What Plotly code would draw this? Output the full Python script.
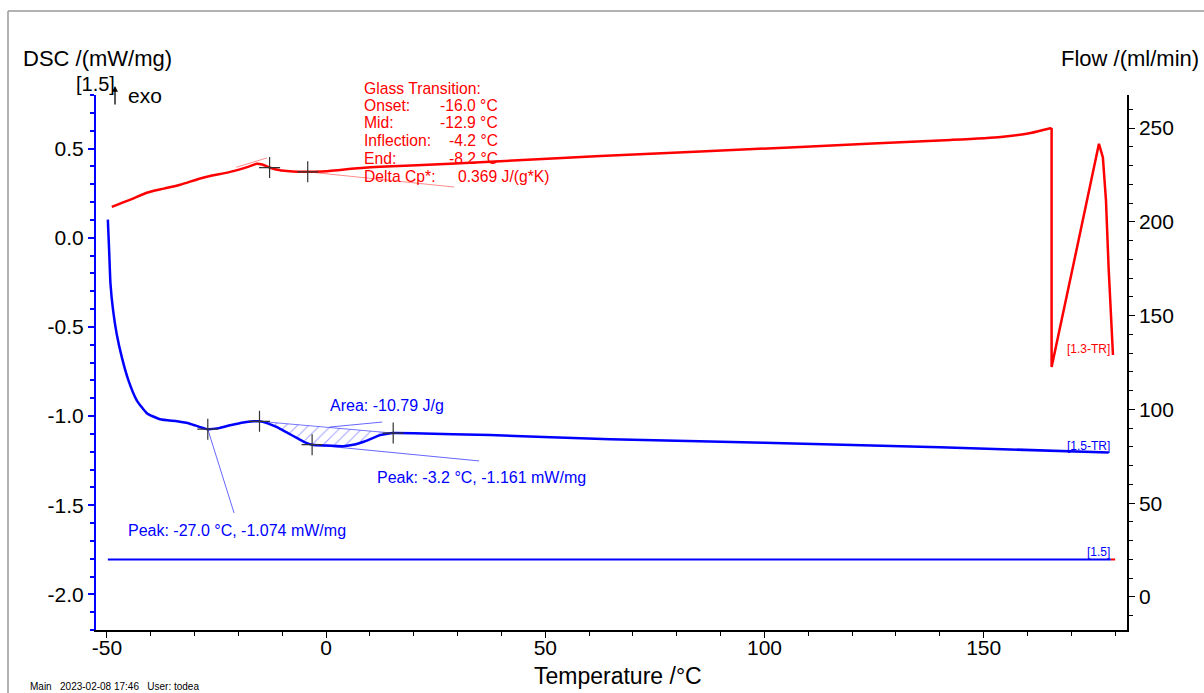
import numpy as np
import plotly.graph_objects as go

# ---------------------------------------------------------------- data
# DSC signal of the [1.5-TR] segment (blue), mW/mg vs temperature in °C
temp_blue = [-49.8, -49.5, -49.2, -48.6, -47.8, -46.6, -45.1, -43.2, -40.9, -37.9,
             -34.0, -31.1, -29.0, -27.0, -24.5, -21.9, -18.9, -16.5, -15.2, -13.5,
             -11.2, -8.8, -6.6, -4.8, -3.2, 0.0, 3.9, 6.5, 8.4, 10.5,
             12.3, 14.0, 15.3, 20.0, 37.4, 64.8, 100.0, 140.0, 178.5]
dsc_blue = [0.101, -0.073, -0.257, -0.408, -0.537, -0.671, -0.800, -0.912, -0.984, -1.018,
            -1.030, -1.043, -1.060, -1.074, -1.068, -1.052, -1.036, -1.030, -1.030, -1.040,
            -1.063, -1.095, -1.124, -1.148, -1.161, -1.166, -1.169, -1.160, -1.146, -1.125,
            -1.107, -1.099, -1.096, -1.097, -1.107, -1.130, -1.150, -1.175, -1.205]

# DSC signal of the [1.3-TR] segment (red)
temp_red = [-48.9, -44.5, -40.9, -37.0, -33.3, -28.1, -21.9, -17.5, -15.8, -14.6,
            -12.8, -10.5, -8.9, -6.5, -4.1, 0.0, 3.2, 12.3, 28.3, 62.6,
            108.2, 142.5, 153.9, 160.7, 165.5, 165.5, 171.0, 176.3, 177.2, 177.9,
            178.5, 179.2, 179.5]
dsc_red = [0.173, 0.215, 0.252, 0.275, 0.297, 0.336, 0.369, 0.400, 0.414, 0.410,
           0.392, 0.378, 0.374, 0.370, 0.369, 0.372, 0.380, 0.397, 0.414, 0.458,
           0.509, 0.548, 0.565, 0.587, 0.615, -0.725, -0.090, 0.526, 0.450, 0.211,
           -0.165, -0.535, -0.658]

# purge gas flow, ml/min (the red one only shows past the end of the blue one)
temp_flow = [-49.8, 179.0]
flow_blue = [20, 20]
temp_flow_red = [179.0, 180.0]
flow_red = [20, 20]

# evaluation results
gt_onset, gt_mid, gt_inflection, gt_end, gt_dcp = -16.0, -12.9, -4.2, -8.2, 0.369
peak1 = (-27.0, -1.074)
peak2 = (-3.2, -1.161)
area_limits = (-15.2, 15.3)
area_value = -10.79

# axes
x_range = [-52.5, 182.7]
y_range = [-2.2, 0.8]
y2_range = [-17.6, 267.6]
x_ticks = [-50, 0, 50, 100, 150]
x_ticktext = ["-50", "0", "50", "100", "150"]
y_ticks = [0.5, 0.0, -0.5, -1.0, -1.5, -2.0]
y_ticktext = ["0.5", "0.0", "-0.5", "-1.0", "-1.5", "-2.0"]
y2_ticks = [0, 50, 100, 150, 200, 250]
y2_ticktext = ["0", "50", "100", "150", "200", "250"]

# ---------------------------------------------------------------- layout helpers
W, H = 1204, 693
ML, MR, MT, MB = 96, 77, 95, 63
FONT = "Liberation Sans, Arial, sans-serif"
BLUE = "#0000ff"
RED = "#ff0000"


def px(x):
    return (x - ML) / (W - ML - MR)


def py(y):
    return (H - MB - y) / (H - MT - MB)


tb = np.array(temp_blue)
db = np.array(dsc_blue)
tr = np.array(temp_red)
dr = np.array(dsc_red)

fig = go.Figure()

# flow lines (right axis)
fig.add_trace(go.Scatter(x=temp_flow_red, y=flow_red, yaxis="y2", mode="lines",
                         line=dict(color=RED, width=2), hoverinfo="skip"))
fig.add_trace(go.Scatter(x=temp_flow, y=flow_blue, yaxis="y2", mode="lines",
                         line=dict(color=BLUE, width=2), hoverinfo="skip"))

# hatched peak area between the curve and a straight baseline
a0, a1 = area_limits
m = (tb > a0) & (tb < a1)
ya0 = float(np.interp(a0, tb, db))
ya1 = float(np.interp(a1, tb, db))
fig.add_trace(go.Scatter(
    x=[a0, *tb[m], a1], y=[ya0, *db[m], ya1], fill="toself", mode="lines",
    line=dict(width=0, color="rgba(0,0,0,0)"),
    fillcolor="rgba(0,0,0,0)",
    fillpattern=dict(shape="/", fgcolor="rgba(40,40,255,0.9)", bgcolor="rgba(0,0,0,0)",
                     size=8, solidity=0.12),
    hoverinfo="skip"))
fig.add_trace(go.Scatter(x=[a0, a1], y=[ya0, ya1], mode="lines",
                         line=dict(color="rgba(60,60,255,0.7)", width=1), hoverinfo="skip"))

# DSC curves: red heating part smoothed, the sharp return drawn straight
split = int(np.argmax(np.diff(tr) == 0)) + 1
fig.add_trace(go.Scatter(x=tr[:split], y=dr[:split], mode="lines",
                         line=dict(color=RED, width=2.5, shape="spline", smoothing=0.6),
                         hoverinfo="skip"))
fig.add_trace(go.Scatter(x=tr[split - 1:], y=dr[split - 1:], mode="lines",
                         line=dict(color=RED, width=2.5), hoverinfo="skip"))
fig.add_trace(go.Scatter(x=temp_blue, y=dsc_blue, mode="lines",
                         line=dict(color=BLUE, width=2.5, shape="spline", smoothing=0.5),
                         hoverinfo="skip"))

# thin evaluation helper lines
helper = [
    # glass transition tangents
    (RED, 0.45, -20.5, 0.395, -13.5, 0.447),
    (RED, 0.45, gt_inflection, float(np.interp(gt_inflection, tr, dr)), 29.2, 0.284),
    # peak leaders
    (BLUE, 0.6, peak1[0], peak1[1], -21.0, -1.544),
    (BLUE, 0.6, peak2[0], peak2[1], 34.9, -1.252),
    (BLUE, 0.6, 0.8, -1.062, 12.8, -1.034),
]
for col, op, x0, y0, x1, y1 in helper:
    fig.add_trace(go.Scatter(x=[x0, x1], y=[y0, y1], mode="lines", opacity=op,
                             line=dict(color=col, width=1), hoverinfo="skip"))

# evaluation markers
cross = dict(symbol="cross-thin", size=15, line=dict(color="#333333", width=1.2))
gx = [gt_mid, gt_inflection]
fig.add_trace(go.Scatter(x=gx, y=np.interp(gx, tr, dr), mode="markers", marker=cross,
                         hoverinfo="skip"))
bx = [peak1[0], a0, peak2[0], a1]
by = [peak1[1], ya0, peak2[1], ya1]
fig.add_trace(go.Scatter(x=bx, y=by, mode="markers", marker=cross, hoverinfo="skip"))

# ---------------------------------------------------------------- annotations
ann = []


def text(x, y, s, size, color="black", anchor="left"):
    ann.append(dict(x=px(x), y=py(y), xref="paper", yref="paper", text=s, showarrow=False,
                    xanchor=anchor, yanchor="middle",
                    font=dict(family=FONT, size=size, color=color)))


text(21, 58, "DSC /(mW/mg)", 22)
text(1201, 58, "Flow /(ml/min)", 22, anchor="right")
text(618, 676, "Temperature /°C", 23, anchor="center")
text(74, 84, "[1.5]", 20)
text(126, 95, "exo", 21)
text(28, 686, "Main&nbsp;&nbsp;&nbsp;2023-02-08 17:46&nbsp;&nbsp;&nbsp;User: todea", 10)

ann.append(dict(x=px(115), y=py(86), xref="paper", yref="paper", text="", showarrow=True,
                ax=0, ay=20, arrowhead=2, arrowsize=0.9, arrowwidth=1.3, arrowcolor="black"))

# glass transition table
rows = [
    ("Onset:", f"{gt_onset:.1f} °C"),
    ("Mid:", f"{gt_mid:.1f} °C"),
    ("Inflection:", f"{gt_inflection:.1f} °C"),
    ("End:", f"{gt_end:.1f} °C"),
]
text(362, 88, "Glass Transition:", 15.7, RED)
for i, (k, v) in enumerate(rows):
    yy = 105 + 17.7 * i
    text(362, yy, k, 15.7, RED)
    text(500, yy, v, 15.7, RED, anchor="right")
text(362, 177, "Delta Cp*:", 15.7, RED)
text(456, 177, f"{gt_dcp:.3f} J/(g*K)", 15.7, RED)

# peak / area labels
text(328, 405, f"Area: {area_value:.2f} J/g", 16, BLUE)
text(375, 478, f"Peak: {peak2[0]:.1f} °C, {peak2[1]:.3f} mW/mg", 16, BLUE)
text(126, 530, f"Peak: {peak1[0]:.1f} °C, {peak1[1]:.3f} mW/mg", 16, BLUE)

# segment labels
text(1112, 349, "[1.3-TR]", 12, RED, anchor="right")
text(1112, 446, "[1.5-TR]", 12, BLUE, anchor="right")
text(1112, 552, "[1.5]", 12, BLUE, anchor="right")

# page frame
shapes = [
    dict(type="line", xref="paper", yref="paper", x0=px(8), x1=px(8), y0=py(11), y1=py(H),
         line=dict(color="#999999", width=1.5)),
    dict(type="line", xref="paper", yref="paper", x0=px(8), x1=px(W), y0=py(11), y1=py(11),
         line=dict(color="#999999", width=1.5)),
]

tickfont = dict(family=FONT, size=21, color="black")
fig.update_layout(
    width=W, height=H,
    margin=dict(l=ML, r=MR, t=MT, b=MB),
    paper_bgcolor="white", plot_bgcolor="white",
    showlegend=False,
    font=dict(family=FONT),
    annotations=ann,
    shapes=shapes,
    xaxis=dict(range=x_range, showgrid=False, zeroline=False, showline=True,
               linecolor="black", linewidth=1.5, ticks="outside", ticklen=6,
               tickcolor="black", tickwidth=1.2, tickmode="array", tickvals=x_ticks,
               ticktext=x_ticktext, tickfont=tickfont, ticklabelstandoff=-8,
               minor=dict(tickmode="linear", tick0=0, dtick=10, ticks="outside",
                          ticklen=4, tickcolor="black", showgrid=False)),
    yaxis=dict(range=y_range, showgrid=False, zeroline=False, showline=True,
               linecolor=BLUE, linewidth=2, ticks="outside", ticklen=6,
               tickcolor=BLUE, tickwidth=1.5, tickmode="array", tickvals=y_ticks,
               ticktext=y_ticktext, tickfont=tickfont,
               minor=dict(tickmode="linear", tick0=0, dtick=0.1, ticks="outside",
                          ticklen=4, tickcolor=BLUE, showgrid=False)),
    yaxis2=dict(range=y2_range, overlaying="y", side="right", showgrid=False,
                zeroline=False, showline=True, linecolor="black", linewidth=1.5,
                ticks="outside", ticklen=6, tickcolor="black", tickwidth=1.2,
                tickmode="array", tickvals=y2_ticks, ticktext=y2_ticktext,
                tickfont=tickfont,
                minor=dict(tickmode="linear", tick0=0, dtick=10, ticks="outside",
                           ticklen=4, tickcolor="black", showgrid=False)),
)

fig.write_html("out.html")
